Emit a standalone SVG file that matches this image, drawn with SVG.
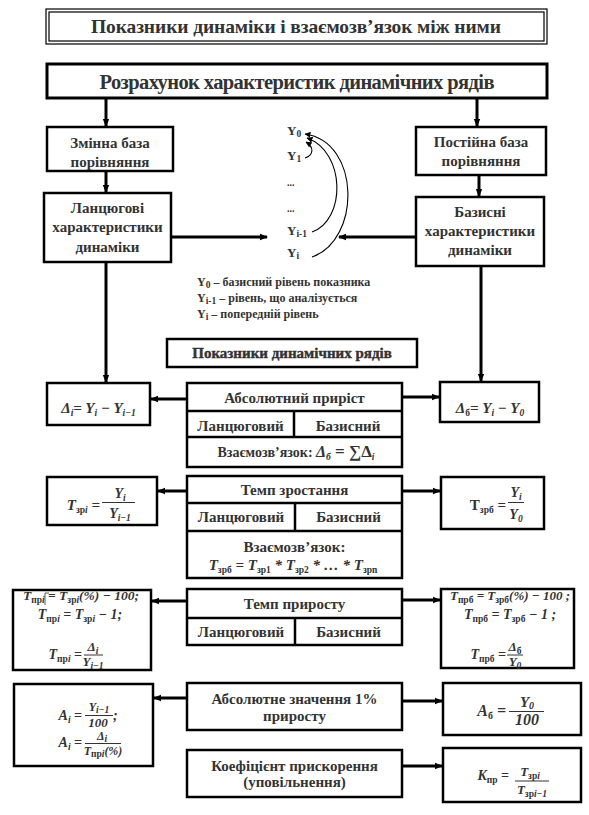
<svg xmlns="http://www.w3.org/2000/svg" width="589" height="815" viewBox="0 0 589 815">
<defs>
<style>
.box{fill:#fff;stroke:#000;stroke-width:2.5}
.dbl{fill:none;stroke:#000;stroke-width:1.2}
.c{fill:none;stroke:#000;stroke-width:3}
.cv{fill:none;stroke:#000;stroke-width:1.1}
.fr{stroke:#333;stroke-width:1}
text{font-family:"Liberation Serif","DejaVu Serif",serif;font-weight:bold;fill:#333}
.t{font-size:15px;text-anchor:middle}
.m{font-style:italic;font-size:14px}
.mid{text-anchor:middle}
.end{text-anchor:end}
.s{font-size:9.5px}
.up{font-style:normal}
.lg{font-size:12px}
.y{font-size:13px}
</style>
<marker id="ah" viewBox="0 0 8 8" refX="7" refY="4" markerWidth="8" markerHeight="8" markerUnits="userSpaceOnUse" orient="auto"><path d="M0,0.8 L8,4 L0,7.2 z" fill="#000"/></marker>
<marker id="as" viewBox="0 0 6 6" refX="5.5" refY="3" markerWidth="6" markerHeight="6" markerUnits="userSpaceOnUse" orient="auto"><path d="M0,0 L6,3 L0,6 z" fill="#000"/></marker>
</defs>
<rect width="589" height="815" fill="#fff"/>

<g id="connectors">
<path class="c" d="M106 98 V126" marker-end="url(#ah)"/>
<path class="c" d="M477 98 V126" marker-end="url(#ah)"/>
<path class="c" d="M106 171 V192" marker-end="url(#ah)"/>
<path class="c" d="M479 175 V196" marker-end="url(#ah)"/>
<path class="c" d="M171 237 H267" marker-end="url(#ah)"/>
<path class="c" d="M416 237 H339" marker-end="url(#ah)"/>
<path class="c" d="M106 262 V382" marker-end="url(#ah)"/>
<path class="c" d="M481 266 V381" marker-end="url(#ah)"/>
<path class="c" d="M187 399 H151" marker-end="url(#ah)"/>
<path class="c" d="M402 397 H439" marker-end="url(#ah)"/>
<path class="c" d="M187 491 H158" marker-end="url(#ah)"/>
<path class="c" d="M402 491 H440" marker-end="url(#ah)"/>
<path class="c" d="M187 601 H152" marker-end="url(#ah)"/>
<path class="c" d="M402 600 H440" marker-end="url(#ah)"/>
<path class="c" d="M187 698 H154" marker-end="url(#ah)"/>
<path class="c" d="M402 701 H442" marker-end="url(#ah)"/>
<path class="c" d="M402 766 H442" marker-end="url(#ah)"/>
<path class="cv" d="M305 158 C314 155 314 147 306 142" marker-end="url(#as)"/>
<path class="cv" d="M312 232 C346 220 346 152 307 138" marker-end="url(#as)"/>
<path class="cv" d="M312 257 C361 240 361 142 305 134" marker-end="url(#as)"/>
</g>

<g id="title">
<rect class="dbl" x="46" y="9" width="501" height="35"/>
<rect class="dbl" x="49" y="12" width="495" height="29"/>
<text class="mid" x="296" y="33" style="font-size:19.5px" textLength="410">Показники динаміки і взаємозв’язок між ними</text>
</g>

<g id="calc">
<rect x="47" y="64" width="500" height="34" fill="#fff" stroke="#000" stroke-width="3"/>
<text class="mid" x="297" y="89" style="font-size:20.5px" textLength="395">Розрахунок характеристик динамічних рядів</text>
</g>

<g id="variable-base">
<rect class="box" x="47" y="127" width="126" height="44"/>
<text class="t" x="110" y="148">Змінна база</text>
<text class="t" x="110" y="167">порівняння</text>
</g>

<g id="constant-base">
<rect class="box" x="416" y="127" width="130" height="48"/>
<text class="t" x="481" y="147">Постійна база</text>
<text class="t" x="481" y="166">порівняння</text>
</g>

<g id="chain-char">
<rect class="box" x="44" y="193" width="127" height="69"/>
<text class="t" x="107.5" y="213">Ланцюгові</text>
<text class="t" x="107.5" y="232">характеристики</text>
<text class="t" x="107.5" y="252">динаміки</text>
</g>

<g id="base-char">
<rect class="box" x="416" y="197" width="128" height="69"/>
<text class="t" x="480" y="217">Базисні</text>
<text class="t" x="480" y="236">характеристики</text>
<text class="t" x="480" y="255">динаміки</text>
</g>

<g id="levels">
<text class="y" x="287" y="134.5">Y<tspan class="s" dy="2">0</tspan></text>
<text class="y" x="287" y="159.5">Y<tspan class="s" dy="2">1</tspan></text>
<text class="y" x="287" y="186" style="font-size:10px">...</text>
<text class="y" x="287" y="212" style="font-size:10px">...</text>
<text class="y" x="287" y="234.5">Y<tspan class="s" dy="2">i-1</tspan></text>
<text class="y" x="287" y="256.5">Y<tspan class="s" dy="2">i</tspan></text>
</g>

<g id="legend">
<text class="lg" x="197" y="286">Y<tspan class="s" dy="2">0</tspan><tspan dy="-2"> – базисний рівень показника</tspan></text>
<text class="lg" x="197" y="302">Y<tspan class="s" dy="2">i-1</tspan><tspan dy="-2"> – рівень, що аналізується</tspan></text>
<text class="lg" x="197" y="318">Y<tspan class="s" dy="2">i</tspan><tspan dy="-2"> – попередній рівень</tspan></text>
</g>

<g id="indicators">
<rect class="box" x="167" y="339" width="250" height="28"/>
<text class="t" x="292" y="358" style="stroke:#333;stroke-width:0.4">Показники динамічних рядів</text>
</g>

<g id="abs-growth">
<rect class="box" x="187" y="383" width="215" height="84"/>
<path class="c" d="M187 411 H402 M187 437 H402 M294 411 V437" style="stroke-width:2.5"/>
<text class="t" x="294.5" y="403">Абсолютний приріст</text>
<text class="t" x="240.5" y="431">Ланцюговий</text>
<text class="t" x="348" y="431">Базисний</text>
<text class="mid" x="296" y="457" style="font-size:14px">Взаємозв’язок: <tspan font-style="italic" style="font-size:16px">Δ</tspan><tspan class="s" dy="3" font-style="italic">б</tspan><tspan dy="-3" style="font-size:17px"> =  ∑Δ</tspan><tspan class="s" dy="3" font-style="italic">i</tspan></text>
</g>

<g id="abs-chain">
<rect class="box" x="47" y="383" width="103" height="42"/>
<text class="m mid" x="98.5" y="413" style="font-size:15px">Δ<tspan class="s" dy="3">i</tspan><tspan dy="-3">= Y</tspan><tspan class="s" dy="3">i</tspan><tspan dy="-3"> − Y</tspan><tspan class="s" dy="3">i−1</tspan></text>
</g>

<g id="abs-base">
<rect class="box" x="440" y="382" width="99" height="40"/>
<text class="m mid" x="490" y="413" style="font-size:15px">Δ<tspan class="s up" dy="3">б</tspan><tspan dy="-3">= Y</tspan><tspan class="s" dy="3">i</tspan><tspan dy="-3"> − Y</tspan><tspan class="s" dy="3">0</tspan></text>
</g>

<g id="growth-rate">
<rect class="box" x="187" y="476" width="215" height="102"/>
<path class="c" d="M187 503 H402 M187 531 H402 M295 503 V531" style="stroke-width:2.5"/>
<text class="t" x="294.5" y="495">Темп зростання</text>
<text class="t" x="241" y="522">Ланцюговий</text>
<text class="t" x="348.5" y="522">Базисний</text>
<text class="t" x="294.5" y="552">Взаємозв’язок:</text>
<text class="m mid" x="293" y="570" style="font-size:15px">T<tspan class="s up" dy="3">зрб</tspan><tspan dy="-3"> = T</tspan><tspan class="s up" dy="3">зр1</tspan><tspan dy="-3"> * T</tspan><tspan class="s up" dy="3">зр2</tspan><tspan dy="-3"> * … * T</tspan><tspan class="s up" dy="3">зрn</tspan></text>
</g>

<g id="growth-chain">
<rect class="box" x="47" y="477" width="110" height="48"/>
<text class="m end" x="100" y="510" style="font-size:15px">T<tspan class="s up" dy="3">зр</tspan><tspan class="s">i</tspan><tspan dy="-3"> =</tspan></text>
<text class="m mid" x="120" y="498">Y<tspan class="s" dy="3">i</tspan></text>
<line class="fr" x1="102" y1="502.5" x2="135" y2="502.5"/>
<text class="m mid" x="120" y="518">Y<tspan class="s" dy="3">i−1</tspan></text>
</g>

<g id="growth-base">
<rect class="box" x="441" y="477" width="103" height="52"/>
<text class="end" x="506" y="510" style="font-size:15px">Т<tspan class="s" dy="3">зрб</tspan><tspan dy="-3"> =</tspan></text>
<text class="m mid" x="516" y="497">Y<tspan class="s" dy="3">i</tspan></text>
<line class="fr" x1="508" y1="502.5" x2="524" y2="502.5"/>
<text class="m mid" x="516" y="519">Y<tspan class="s" dy="3">0</tspan></text>
</g>

<g id="increase-rate">
<rect class="box" x="187" y="589" width="215" height="56"/>
<path class="c" d="M187 618 H402 M295 618 V645" style="stroke-width:2.5"/>
<text class="t" x="294.5" y="609">Темп приросту</text>
<text class="t" x="241" y="637">Ланцюговий</text>
<text class="t" x="348.5" y="637">Базисний</text>
</g>

<g id="increase-chain">
<rect class="box" x="13" y="590" width="138" height="80"/>
<line x1="45" y1="593" x2="45" y2="605" stroke="#333" stroke-width="0.8"/>
<line x1="45" y1="593" x2="49" y2="593" stroke="#333" stroke-width="0.8"/>
<text class="m mid" x="81" y="600" style="font-size:13.5px">T<tspan class="s up" dy="3">пр</tspan><tspan class="s">i</tspan><tspan dy="-3"> =  T</tspan><tspan class="s up" dy="3">зр</tspan><tspan class="s">i</tspan><tspan dy="-3">(%) − 100;</tspan></text>
<text class="m mid" x="80" y="619">T<tspan class="s up" dy="3">пр</tspan><tspan class="s">i</tspan><tspan dy="-3"> = T</tspan><tspan class="s up" dy="3">зр</tspan><tspan class="s">i</tspan><tspan dy="-3"> − 1;</tspan></text>
<text class="m end" x="82" y="659">T<tspan class="s up" dy="3">пр</tspan><tspan class="s">i</tspan><tspan dy="-3"> =</tspan></text>
<text class="m mid" x="93" y="651" style="font-size:13px">Δ<tspan class="s" dy="2.5">i</tspan></text>
<line class="fr" x1="84" y1="655" x2="103" y2="655"/>
<text class="m mid" x="93" y="666" style="font-size:13px">Y<tspan class="s" dy="2.5">i−1</tspan></text>
</g>

<g id="increase-base">
<rect class="box" x="441" y="589" width="133" height="79"/>
<text class="m mid" x="510" y="600" style="font-size:13px">T<tspan class="s up" dy="3">прб</tspan><tspan dy="-3"> = T</tspan><tspan class="s up" dy="3">зрб</tspan><tspan dy="-3">(%) − 100 ;</tspan></text>
<text class="m mid" x="510" y="619">T<tspan class="s up" dy="3">прб</tspan><tspan dy="-3"> = T</tspan><tspan class="s up" dy="3">зрб</tspan><tspan dy="-3"> − 1 ;</tspan></text>
<text class="m end" x="506" y="659">T<tspan class="s up" dy="3">прб</tspan><tspan dy="-3"> =</tspan></text>
<text class="m mid" x="515" y="651" style="font-size:13px">Δ<tspan class="s up" dy="2.5">б</tspan></text>
<line class="fr" x1="507" y1="655" x2="523" y2="655"/>
<text class="m mid" x="515" y="666" style="font-size:13px">Y<tspan class="s" dy="2.5">0</tspan></text>
</g>

<g id="abs-one-percent">
<rect class="box" x="187" y="683" width="215" height="47"/>
<text class="t" x="294.5" y="704">Абсолютне значення 1%</text>
<text class="t" x="294.5" y="721">приросту</text>
</g>

<g id="one-percent-chain">
<rect class="box" x="14" y="684" width="139" height="82"/>
<text class="m end" x="82" y="720">A<tspan class="s" dy="3">i</tspan><tspan dy="-3"> =</tspan></text>
<text class="m mid" x="99" y="711" style="font-size:12px">Y<tspan class="s" dy="2">i−1</tspan></text>
<line class="fr" x1="85" y1="715.5" x2="113" y2="715.5"/>
<text class="m mid" x="98" y="727" style="font-size:13px">100</text>
<text class="m" x="113" y="720"> ;</text>
<text class="m end" x="82" y="747">A<tspan class="s" dy="3">i</tspan><tspan dy="-3"> =</tspan></text>
<text class="m mid" x="102" y="740" style="font-size:12px">Δ<tspan class="s" dy="2">i</tspan></text>
<line class="fr" x1="85" y1="743.5" x2="121" y2="743.5"/>
<text class="m mid" x="103" y="754.5" style="font-size:12px">T<tspan class="s up" dy="2.5">пр</tspan><tspan class="s">i</tspan><tspan dy="-2.5">(%)</tspan></text>
</g>

<g id="one-percent-base">
<rect class="box" x="443" y="683" width="138" height="52"/>
<text class="m end" x="506" y="716" style="font-size:16px">A<tspan class="s up" dy="3" style="font-size:10px">б</tspan><tspan dy="-3"> =</tspan></text>
<text class="m mid" x="527" y="707" style="font-size:15px">Y<tspan class="s" dy="2" style="font-size:10px">0</tspan></text>
<line class="fr" x1="509" y1="711.5" x2="544" y2="711.5"/>
<text class="m mid" x="527" y="725" style="font-size:16px">100</text>
</g>

<g id="acceleration">
<rect class="box" x="187" y="750" width="215" height="47"/>
<text class="t" x="294.5" y="771">Коефіцієнт прискорення</text>
<text class="t" x="294.5" y="787">(уповільнення)</text>
</g>

<g id="acceleration-formula">
<rect class="box" x="443" y="748" width="138" height="54"/>
<text class="m end" x="509" y="780">K<tspan class="s up" dy="3">пр</tspan><tspan dy="-3"> =</tspan></text>
<text class="m mid" x="530" y="776" style="font-size:13px">T<tspan class="s up" dy="2.5">зр</tspan><tspan class="s">i</tspan></text>
<line class="fr" x1="515" y1="781" x2="549" y2="781"/>
<text class="m mid" x="532" y="794" style="font-size:13px">T<tspan class="s up" dy="2.5">зр</tspan><tspan class="s">i−1</tspan></text>
</g>
</svg>
